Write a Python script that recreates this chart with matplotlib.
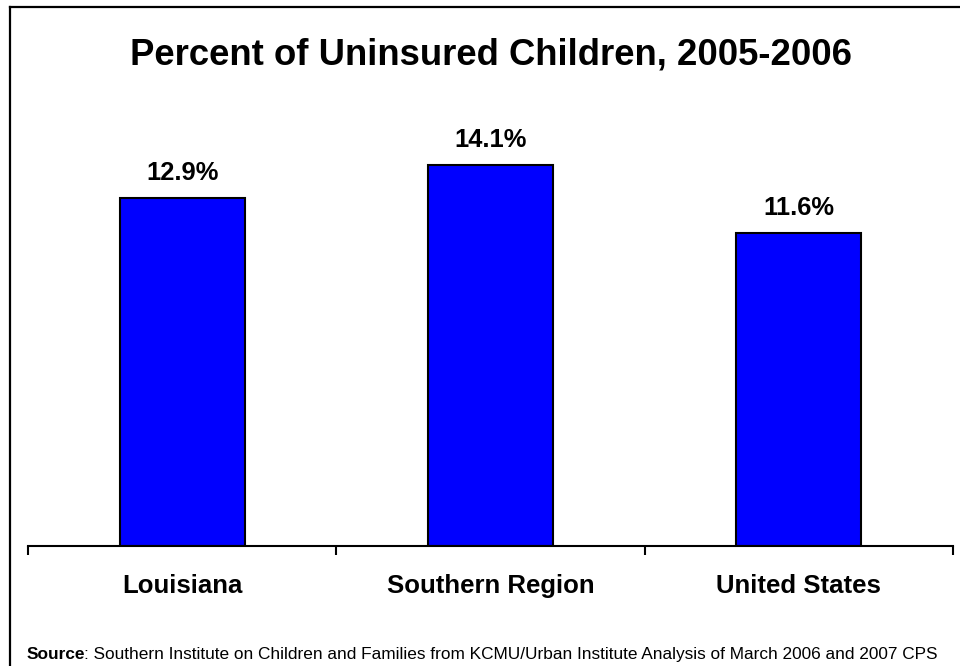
import numpy as np
import matplotlib
matplotlib.use('Agg')
import matplotlib.pyplot as plt
from matplotlib.lines import Line2D

plt.rcParams['font.family'] = ['Liberation Sans', 'DejaVu Sans']

# 데이터
categories = ['Louisiana', 'Southern Region', 'United States']
pct_uninsured = [12.9, 14.1, 11.6]
value_labels = ['12.9%', '14.1%', '11.6%']
title = 'Percent of Uninsured Children, 2005-2006'
source_note = ': Southern Institute on Children and Families from KCMU/Urban Institute Analysis of March 2006 and 2007 CPS'

W, H = 960, 666
fig = plt.figure(figsize=(W / 100, H / 100), dpi=100)

# 축 영역 (픽셀 기준 -> figure 비율), 27 px / 1%p
x0, x1 = 28, 953
y_base, y_top = 546, 114
ax = fig.add_axes([x0 / W, 1 - y_base / H, (x1 - x0) / W, (y_base - y_top) / H])

x_pos = np.arange(len(categories))
ax.bar(x_pos, pct_uninsured, width=0.405, color='#0000FF', edgecolor='black', linewidth=1.5)
ax.set_xlim(-0.5, len(categories) - 0.5)
ax.set_ylim(0, 16)

for x, v, lab in zip(x_pos, pct_uninsured, value_labels):
    ax.annotate(lab, (x, v), xytext=(0, 13), textcoords='offset points',
                ha='center', va='baseline', fontsize=18.4, fontweight='bold')

# 카테고리 라벨 (축 아래)
for x, name in zip(x_pos, categories):
    ax.annotate(name, (x, 0), xytext=(0, -33.8), textcoords='offset points',
                ha='center', va='baseline', fontsize=18.5, fontweight='bold',
                annotation_clip=False)

for side in ['top', 'right', 'left']:
    ax.spines[side].set_visible(False)
ax.spines['bottom'].set_linewidth(1.5)
ax.set_yticks([])
ax.set_xticks(np.arange(-0.5, len(categories)))
ax.set_xticklabels([])
ax.tick_params(axis='x', length=6.5, width=1.5, direction='out')

fig.text(490.5 / W, 1 - 65 / H, title, ha='center', va='baseline',
         fontsize=26.3, fontweight='bold')

# "Source"만 굵게 -> 뒤 문장은 바로 이어 붙임
src = fig.text(27 / W, 1 - 659 / H, 'Source', ha='left', va='baseline',
               fontsize=12.4, fontweight='bold')
fig.canvas.draw()
bb = src.get_window_extent()
fig.text((bb.x1 - 1.5) / W, 1 - 659 / H, source_note, ha='left', va='baseline', fontsize=12.4)

# 테두리 (왼쪽, 위쪽만 보임)
fig.add_artist(Line2D([9.5 / W, 9.5 / W], [0, 1 - 6.5 / H], transform=fig.transFigure,
                      color='black', linewidth=1.6))
fig.add_artist(Line2D([9.5 / W, 1], [1 - 6.5 / H, 1 - 6.5 / H], transform=fig.transFigure,
                      color='black', linewidth=1.6))

plt.savefig('out.png', dpi=100)
plt.close()
